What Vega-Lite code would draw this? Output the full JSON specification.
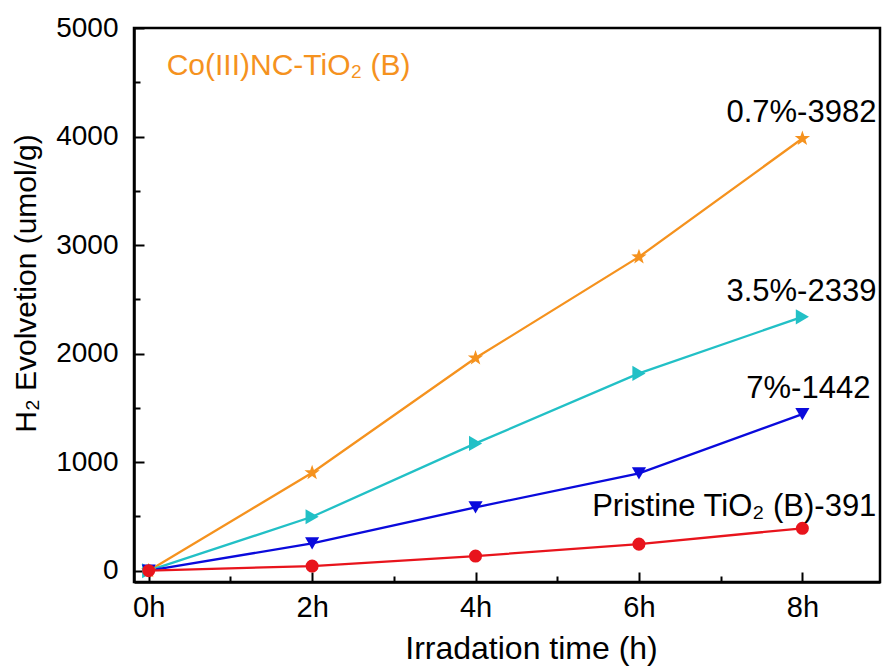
{
  "$schema": "https://vega.github.io/schema/vega-lite/v6.json",
  "width": 746,
  "height": 554,
  "autosize": "none",
  "padding": {"left": 134, "top": 28, "right": 6, "bottom": 87},
  "background": "white",
  "config": {
    "font": "Liberation Sans",
    "view": {"stroke": "black", "strokeWidth": 2.5},
    "axis": {
      "grid": false,
      "domainColor": "black",
      "domainWidth": 2.5,
      "tickColor": "black",
      "tickWidth": 2,
      "labelColor": "black",
      "titleColor": "black",
      "labelFont": "Liberation Sans",
      "titleFont": "Liberation Sans",
      "titleFontWeight": "normal",
      "labelOverlap": false,
      "labelFlush": false
    }
  },
  "datasets": {
    "evolution": [
      {"series": "0.7%", "t": 0, "h2": 0},
      {"series": "0.7%", "t": 2, "h2": 902},
      {"series": "0.7%", "t": 4, "h2": 1959},
      {"series": "0.7%", "t": 6, "h2": 2891},
      {"series": "0.7%", "t": 8, "h2": 3982},
      {"series": "3.5%", "t": 0, "h2": 0},
      {"series": "3.5%", "t": 2, "h2": 497},
      {"series": "3.5%", "t": 4, "h2": 1173},
      {"series": "3.5%", "t": 6, "h2": 1818},
      {"series": "3.5%", "t": 8, "h2": 2339},
      {"series": "7%", "t": 0, "h2": 0},
      {"series": "7%", "t": 2, "h2": 252},
      {"series": "7%", "t": 4, "h2": 584},
      {"series": "7%", "t": 6, "h2": 897},
      {"series": "7%", "t": 8, "h2": 1442},
      {"series": "Pristine TiO₂ (B)", "t": 0, "h2": 0},
      {"series": "Pristine TiO₂ (B)", "t": 2, "h2": 43},
      {"series": "Pristine TiO₂ (B)", "t": 4, "h2": 135},
      {"series": "Pristine TiO₂ (B)", "t": 6, "h2": 245},
      {"series": "Pristine TiO₂ (B)", "t": 8, "h2": 391}
    ],
    "endLabels": [
      {"series": "0.7%", "t": 8, "h2": 3982, "label": "0.7%-3982"},
      {"series": "3.5%", "t": 8, "h2": 2339, "label": "3.5%-2339"},
      {"series": "7%", "t": 8, "h2": 1442, "label": "7%-1442"},
      {"series": "Pristine TiO₂ (B)", "t": 8, "h2": 391, "label": "Pristine TiO₂ (B)-391"}
    ],
    "sample": [
      {"name": "Co(III)NC-TiO₂ (B)"}
    ]
  },
  "resolve": {"axis": {"x": "independent", "y": "independent"}},
  "layer": [
    {
      "data": {"name": "evolution"},
      "mark": {"type": "line", "strokeWidth": 2.3},
      "encoding": {
        "x": {
          "field": "t",
          "type": "quantitative",
          "scale": {"domain": [-0.18, 8.95], "nice": false, "zero": false},
          "axis": {
            "orient": "bottom",
            "values": [0, 2, 4, 6, 8],
            "labelExpr": "datum.value + 'h'",
            "tickSize": -10,
            "labelPadding": 21,
            "labelFontSize": 29,
            "title": "Irradation time (h)",
            "titleFontSize": 32,
            "titleX": 397,
            "titleY": 76,
            "titleAlign": "center",
            "titleBaseline": "alphabetic"
          }
        },
        "y": {
          "field": "h2",
          "type": "quantitative",
          "scale": {"domain": [-104, 5000], "nice": false, "zero": false},
          "axis": {
            "orient": "left",
            "values": [0, 1000, 2000, 3000, 4000, 5000],
            "format": "d",
            "tickSize": -10,
            "labelPadding": 26,
            "labelFontSize": 28,
            "title": "H₂ Evolvetion (umol/g)",
            "titleFontSize": 30,
            "titleAngle": -90,
            "titleX": -99,
            "titleY": 255,
            "titleAlign": "center",
            "titleBaseline": "alphabetic"
          }
        },
        "color": {
          "field": "series",
          "type": "nominal",
          "scale": {
            "domain": ["0.7%", "3.5%", "7%", "Pristine TiO₂ (B)"],
            "range": ["#F5921E", "#22C0C6", "#0A0ADC", "#E8141C"]
          },
          "legend": null
        }
      }
    },
    {
      "data": {"name": "evolution"},
      "mark": {"type": "point", "filled": true, "opacity": 1},
      "encoding": {
        "x": {
          "field": "t",
          "type": "quantitative",
          "axis": {
            "orient": "bottom",
            "values": [1, 3, 5, 7],
            "tickSize": -6,
            "labels": false,
            "domain": false,
            "title": null
          }
        },
        "y": {
          "field": "h2",
          "type": "quantitative",
          "axis": {
            "orient": "left",
            "values": [500, 1500, 2500, 3500, 4500],
            "tickSize": -6,
            "labels": false,
            "domain": false,
            "title": null
          }
        },
        "color": {"field": "series", "type": "nominal", "legend": null},
        "shape": {
          "field": "series",
          "type": "nominal",
          "scale": {
            "domain": ["0.7%", "3.5%", "7%", "Pristine TiO₂ (B)"],
            "range": [
              "M0,-1L0.235,-0.324L0.951,-0.309L0.38,0.124L0.588,0.809L0,0.4L-0.588,0.809L-0.38,0.124L-0.951,-0.309L-0.235,-0.324Z",
              "triangle-right",
              "triangle-down",
              "circle"
            ]
          },
          "legend": null
        },
        "size": {
          "field": "series",
          "type": "nominal",
          "scale": {
            "domain": ["0.7%", "3.5%", "7%", "Pristine TiO₂ (B)"],
            "range": [260, 170, 170, 120]
          },
          "legend": null
        }
      }
    },
    {
      "data": {"name": "endLabels"},
      "transform": [{"filter": "datum.series == '0.7%' || datum.series == '3.5%'"}],
      "mark": {"type": "text", "align": "right", "baseline": "alphabetic", "dx": 74, "dy": -16, "fontSize": 31, "font": "Liberation Sans", "color": "black"},
      "encoding": {
        "x": {"field": "t", "type": "quantitative", "axis": null},
        "y": {"field": "h2", "type": "quantitative", "axis": null},
        "text": {"field": "label"}
      }
    },
    {
      "data": {"name": "endLabels"},
      "transform": [{"filter": "datum.series == '7%'"}],
      "mark": {"type": "text", "align": "right", "baseline": "alphabetic", "dx": 68, "dy": -16, "fontSize": 31, "font": "Liberation Sans", "color": "black"},
      "encoding": {
        "x": {"field": "t", "type": "quantitative", "axis": null},
        "y": {"field": "h2", "type": "quantitative", "axis": null},
        "text": {"field": "label"}
      }
    },
    {
      "data": {"name": "endLabels"},
      "transform": [{"filter": "datum.series == 'Pristine TiO₂ (B)'"}],
      "mark": {"type": "text", "align": "right", "baseline": "alphabetic", "dx": 74, "dy": -12, "fontSize": 31, "font": "Liberation Sans", "color": "black"},
      "encoding": {
        "x": {"field": "t", "type": "quantitative", "axis": null},
        "y": {"field": "h2", "type": "quantitative", "axis": null},
        "text": {"field": "label"}
      }
    },
    {
      "data": {"name": "sample"},
      "mark": {"type": "text", "align": "left", "baseline": "alphabetic", "fontSize": 30, "font": "Liberation Sans", "color": "#F5921E"},
      "encoding": {
        "x": {"datum": 0.22, "type": "quantitative", "axis": null},
        "y": {"datum": 4567, "type": "quantitative", "axis": null},
        "text": {"field": "name"}
      }
    }
  ]
}
